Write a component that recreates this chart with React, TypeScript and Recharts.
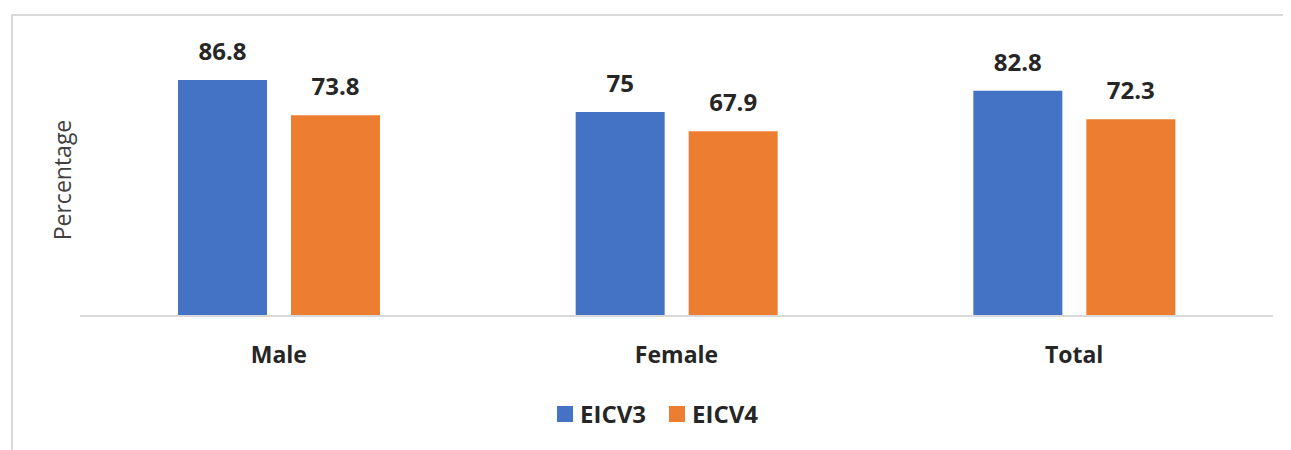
import { BarChart, Bar, XAxis, YAxis, Legend, LabelList, Label } from "recharts";

const categories = ["Male", "Female", "Total"];
const eicv3 = [86.8, 75, 82.8];
const eicv4 = [73.8, 67.9, 72.3];
const seriesNames = ["EICV3", "EICV4"];
const seriesColors = ["#4472C4", "#ED7D31"];

const data = categories.map((name, i) => ({ name, EICV3: eicv3[i], EICV4: eicv4[i] }));

const FONT = "'Open Sans', sans-serif";
const TEXT = "#262626";

if (typeof document !== "undefined") {
  document.documentElement.style.overflow = "hidden";
  document.body.style.overflow = "hidden";
}

function YTitle(props: any) {
  const { viewBox } = props;
  const x = viewBox.x + 49;
  const y = viewBox.y + viewBox.height / 2;
  return (
    <text
      x={x}
      y={y}
      transform={`rotate(-90 ${x} ${y})`}
      textAnchor="middle"
      dominantBaseline="central"
      fontFamily={FONT}
      fontSize={23}
      fill="#404040"
    >
      Percentage
    </text>
  );
}

function LegendBox() {
  return (
    <div style={{ display: "flex", alignItems: "center", fontFamily: FONT, fontSize: 24, fontWeight: 700, color: TEXT }}>
      {seriesNames.map((s, i) => (
        <div key={s} style={{ display: "flex", alignItems: "center", marginRight: 23 }}>
          <span style={{ width: 16, height: 16, background: seriesColors[i], display: "inline-block", marginRight: 7 }} />
          <span>{s}</span>
        </div>
      ))}
    </div>
  );
}

export default function App() {
  return (
    <div
      style={{
        marginLeft: 3,
        marginTop: 6,
        width: 1280,
        height: 436,
        borderTop: "2px solid #d9d9d9",
        borderLeft: "2px solid #d9d9d9",
        boxSizing: "border-box",
        overflow: "hidden",
      }}
    >
      <BarChart
        width={1278}
        height={434}
        data={data}
        margin={{ top: 28, right: 18, bottom: 104, left: 0 }}
        barGap={24}
        barSize={89}
        style={{ outline: "none" }}
      >
        <XAxis
          dataKey="name"
          axisLine={{ stroke: "#d9d9d9", strokeWidth: 2 }}
          tickLine={false}
          tick={{ fontFamily: FONT, fontSize: 23, fontWeight: 700, fill: TEXT }}
          tickMargin={25}
          height={30}
        />
        <YAxis domain={[0, 100]} tick={false} axisLine={false} tickLine={false} width={67}>
          <Label content={YTitle} />
        </YAxis>
        <Legend
          layout="horizontal"
          verticalAlign="middle"
          align="center"
          content={<LegendBox />}
          wrapperStyle={{ position: "absolute", left: 544, top: 381, width: "auto" }}
        />
        {seriesNames.map((s, i) => (
          <Bar key={s} dataKey={s} fill={seriesColors[i]} isAnimationActive={false}>
            <LabelList
              dataKey={s}
              position="top"
              offset={20}
              style={{ fontFamily: FONT, fontSize: 24, fontWeight: 700, fill: TEXT }}
            />
          </Bar>
        ))}
      </BarChart>
    </div>
  );
}
